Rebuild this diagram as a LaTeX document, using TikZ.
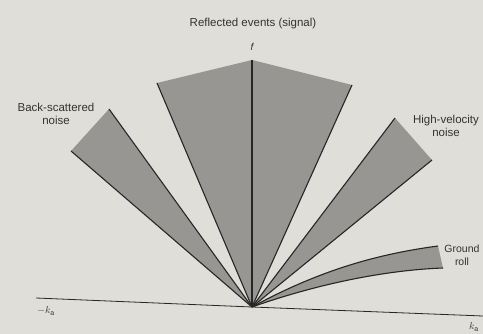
\documentclass[tikz,border=0pt]{standalone}
\usepackage{fontspec}
\setmainfont{Liberation Sans}
\begin{document}
\begin{tikzpicture}[x=1pt,y=-1pt,
  wedge/.style={fill=wedgegray,draw=none},
  edge/.style={draw=black!85,line width=1.1pt},
  lbl/.style={font=\fontsize{11.5}{13.5}\selectfont,text=black!80,align=center,inner sep=0pt},
  axislbl/.style={font=\fontsize{10}{11}\selectfont\itshape,text=black!80,inner sep=0pt}]
\definecolor{paper}{RGB}{224,222,216}
\definecolor{wedgegray}{RGB}{152,150,147}
\fill[paper] (0,0) rectangle (483,334);
\useasboundingbox (0,0) rectangle (483,334);
% key points
\coordinate (O) at (252,307);
\coordinate (ftop) at (252,60);
\coordinate (rl) at (157,83);
\coordinate (rr) at (352,85);
\coordinate (bl) at (71,151);
\coordinate (bt) at (109,109);
\coordinate (ht) at (395,118);
\coordinate (hr) at (432,160);
\coordinate (gt) at (438,246);
\coordinate (gb) at (443,268);
\coordinate (axL) at (36,298);
\coordinate (axR) at (483,316);
% wedges
\fill[wedgegray] (O) -- (rl) -- (ftop) -- (rr) -- cycle;
\fill[wedgegray] (O) -- (bl) -- (bt) -- cycle;
\fill[wedgegray] (O) -- (ht) -- (hr) -- cycle;
\fill[wedgegray] (O) .. controls (320,270) and (378,254) .. (gt) -- (gb) .. controls (388,270) and (320,283) .. (O);
% edges
\draw[edge] (O) -- (rl);
\draw[edge] (O) -- (rr);
\draw[edge] (O) -- (ftop);
\draw[edge] (O) -- (bl);
\draw[edge] (O) -- (bt);
\draw[edge] (O) -- (ht);
\draw[edge] (O) -- (hr);
\draw[edge] (O) .. controls (320,270) and (378,254) .. (gt);
\draw[edge] (O) .. controls (320,283) and (388,270) .. (gb);
\draw[line width=0.8pt,black!85] (axL) -- (O) -- (axR);
% labels
\node[lbl] (sig) at (253,24) {Reflected events (signal)};
\node[axislbl] (f) at (252,47) {f};
\node[lbl] (bs) at (56,114) {Back-scattered\\noise};
\node[lbl] (hv) at (446,126) {High-velocity\\noise};
\node[lbl,font=\fontsize{10.5}{13.5}\selectfont] (gr) at (462,255) {Ground\\roll};
\node[axislbl] (km) at (46,311) {$-k_{\mathrm{a}}$};
\node[axislbl] (kp) at (474,327) {$k_{\mathrm{a}}$};
\end{tikzpicture}
\end{document}
